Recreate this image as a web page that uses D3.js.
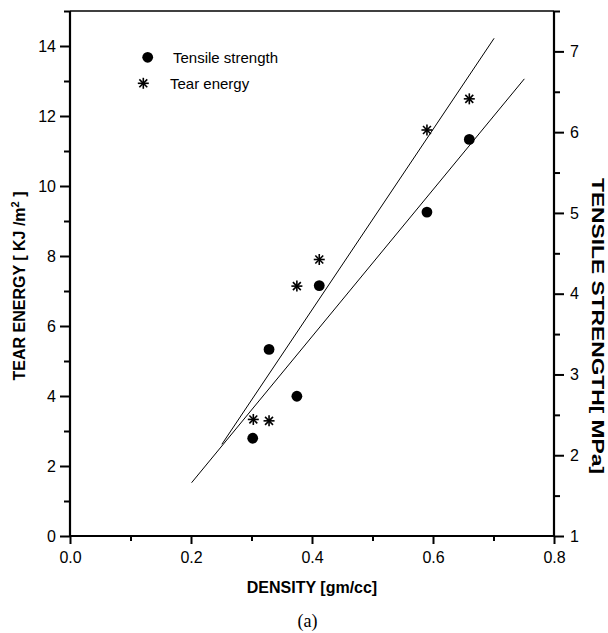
<!DOCTYPE html>
<html><head><meta charset="utf-8">
<script src="https://cdn.jsdelivr.net/npm/d3@7"></script>
<style>
html,body{margin:0;padding:0;background:#fff;}
svg{display:block;font-family:"Liberation Sans",Arial,Helvetica,sans-serif;}
</style></head>
<body><svg id="chart" width="608" height="633"></svg>
<script>
// ---- data ----
const densityTensile = [0.302, 0.329, 0.375, 0.412, 0.590, 0.660];
const tensileStrength = [2.21, 3.31, 2.73, 4.10, 5.01, 5.91];   // MPa (right axis)
const densityTear = [0.303, 0.329, 0.375, 0.412, 0.590, 0.660];
const tearEnergy = [3.33, 3.29, 7.14, 7.90, 11.60, 12.49];      // KJ/m2 (left axis)
const fitTearX = [0.251, 0.701];
const fitTearY = [2.62, 14.22];
const fitTensileX = [0.201, 0.751];
const fitTensileY = [1.66, 6.66];
const xTicks = [0, 0.2, 0.4, 0.6, 0.8];
const xMinor = [0.1, 0.3, 0.5, 0.7];
const yLeftTicks = [0, 2, 4, 6, 8, 10, 12, 14];
const yLeftMinor = [1, 3, 5, 7, 9, 11, 13, 15];
const yRightTicks = [1, 2, 3, 4, 5, 6, 7];
const yRightMinor = [1.5, 2.5, 3.5, 4.5, 5.5, 6.5, 7.5];
const legendLabels = ["Tensile strength", "Tear energy"];

const svg = d3.select("#chart");
const L = 70, R = 554, T = 11, B = 536;
const x = d3.scaleLinear().domain([0, 0.8]).range([L, R]);
const yL = d3.scaleLinear().domain([0, 15]).range([B, T]);
const yR = d3.scaleLinear().domain([1, 7.5]).range([B, T]);

function styleAxis(g, w) {
  g.select(".domain").remove();
  g.selectAll(".tick line").attr("stroke", "#000").attr("stroke-width", w);
  g.selectAll(".tick text").attr("fill", "#000").style("font-size", "16px")
    .style("font-family", "'Liberation Sans',Arial,sans-serif");
}

// bottom axis
const gx = svg.append("g").attr("transform", `translate(0,${B})`)
  .call(d3.axisBottom(x).tickValues(xTicks).tickSize(8).tickPadding(8).tickFormat(d3.format(".1f")));
styleAxis(gx, 2);
const gxm = svg.append("g").attr("transform", `translate(0,${B})`)
  .call(d3.axisBottom(x).tickValues(xMinor).tickSize(5).tickFormat(""));
styleAxis(gxm, 2);

// left axis
const gy = svg.append("g").attr("transform", `translate(${L},0)`)
  .call(d3.axisLeft(yL).tickValues(yLeftTicks).tickSize(10).tickPadding(4).tickFormat(d3.format("d")));
styleAxis(gy, 2);
const gym = svg.append("g").attr("transform", `translate(${L},0)`)
  .call(d3.axisLeft(yL).tickValues(yLeftMinor).tickSize(6).tickFormat(""));
styleAxis(gym, 2);

// right axis
const gr = svg.append("g").attr("transform", `translate(${R},0)`)
  .call(d3.axisRight(yR).tickValues(yRightTicks).tickSize(10).tickPadding(6).tickFormat(d3.format("d")));
styleAxis(gr, 2);
const grm = svg.append("g").attr("transform", `translate(${R},0)`)
  .call(d3.axisRight(yR).tickValues(yRightMinor).tickSize(6).tickFormat(""));
styleAxis(grm, 2);

// frame lines
svg.append("line").attr("x1", L).attr("x2", L).attr("y1", T).attr("y2", B + 1).attr("stroke", "#000").attr("stroke-width", 2.2);
svg.append("line").attr("x1", R).attr("x2", R).attr("y1", T).attr("y2", B + 1).attr("stroke", "#000").attr("stroke-width", 2.2);
svg.append("line").attr("x1", L - 1).attr("x2", R + 1).attr("y1", B).attr("y2", B).attr("stroke", "#000").attr("stroke-width", 2.2);
svg.append("line").attr("x1", L).attr("x2", R).attr("y1", T).attr("y2", T).attr("stroke", "#000").attr("stroke-width", 1.5);

// fit lines
svg.append("line")
  .attr("x1", x(fitTearX[0])).attr("y1", yL(fitTearY[0]))
  .attr("x2", x(fitTearX[1])).attr("y2", yL(fitTearY[1]))
  .attr("stroke", "#000").attr("stroke-width", 1);
svg.append("line")
  .attr("x1", x(fitTensileX[0])).attr("y1", yR(fitTensileY[0]))
  .attr("x2", x(fitTensileX[1])).attr("y2", yR(fitTensileY[1]))
  .attr("stroke", "#000").attr("stroke-width", 1);

// star marker
function star(g, cx, cy, r) {
  const a = r * 0.72;
  const segs = [[0, -r, 0, r], [-r, 0, r, 0], [-a, -a, a, a], [-a, a, a, -a]];
  segs.forEach(s => g.append("line")
    .attr("x1", cx + s[0]).attr("y1", cy + s[1]).attr("x2", cx + s[2]).attr("y2", cy + s[3])
    .attr("stroke", "#000").attr("stroke-width", 1.6));
  g.append("circle").attr("cx", cx).attr("cy", cy).attr("r", 1.4).attr("fill", "#000");
}

// tensile points
svg.append("g").selectAll("circle").data(d3.range(densityTensile.length)).join("circle")
  .attr("cx", i => x(densityTensile[i])).attr("cy", i => yR(tensileStrength[i]))
  .attr("r", 5.4).attr("fill", "#000");

// tear points
const gs = svg.append("g");
d3.range(densityTear.length).forEach(i => star(gs, x(densityTear[i]), yL(tearEnergy[i]), 5.5));

// legend
svg.append("circle").attr("cx", 147.7).attr("cy", 57.3).attr("r", 5.4).attr("fill", "#000");
svg.append("text").attr("x", 173).attr("y", 62.5).style("font-size", "15px").text(legendLabels[0]);
star(svg, 143.3, 83.3, 5.5);
svg.append("text").attr("x", 170).attr("y", 88.5).style("font-size", "15px").text(legendLabels[1]);

// axis titles
svg.append("text").attr("x", 312).attr("y", 593).attr("text-anchor", "middle")
  .style("font-size", "16px").style("font-weight", "bold").text("DENSITY [gm/cc]");
const lt = svg.append("text").attr("transform", "translate(25,286) rotate(-90)")
  .attr("text-anchor", "middle").style("font-size", "16px").style("font-weight", "bold");
lt.append("tspan").text("TEAR ENERGY [ KJ /m");
lt.append("tspan").attr("dy", -6).style("font-size", "11px").text("2");
lt.append("tspan").attr("dy", 6).text(" ]");
svg.append("text").attr("transform", "translate(592,326) rotate(90)")
  .attr("text-anchor", "middle").style("font-size", "17px").style("font-weight", "bold")
  .attr("textLength", 296).attr("lengthAdjust", "spacingAndGlyphs")
  .text("TENSILE STRENGTH[ MPa]");
svg.append("text").attr("x", 307.5).attr("y", 627).attr("text-anchor", "middle")
  .style("font-family", "'Liberation Serif','Times New Roman',serif").style("font-size", "18px").text("(a)");
</script></body></html>
